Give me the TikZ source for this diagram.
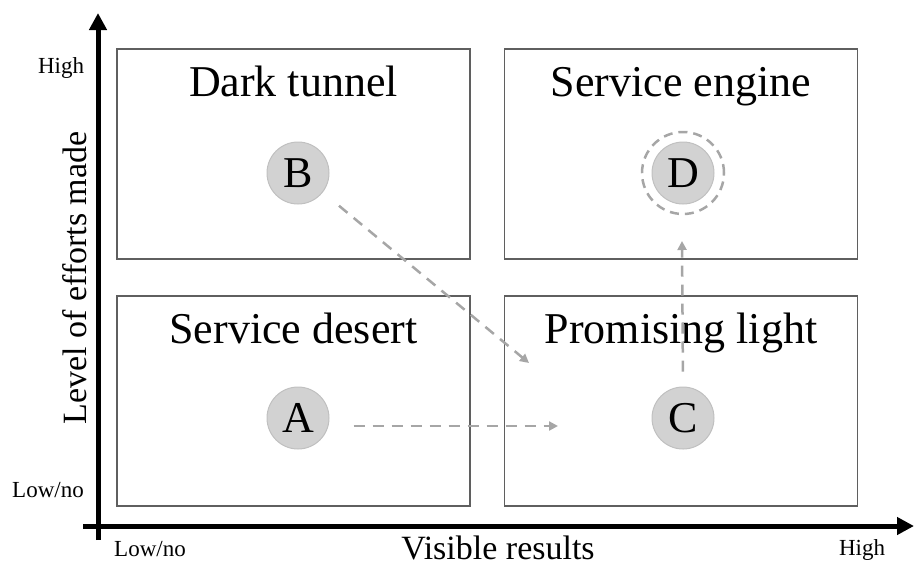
\documentclass[tikz,border=0pt]{standalone}
\usepackage{fontspec}
\setmainfont{Liberation Serif}
\usetikzlibrary{arrows.meta,positioning}
\definecolor{boxline}{RGB}{95,95,95}
\definecolor{dotfill}{RGB}{210,210,210}
\definecolor{dotline}{RGB}{192,192,192}
\definecolor{flowgray}{RGB}{166,166,166}

\begin{document}
\begin{tikzpicture}[x=1pt, y=-1pt,
  zone/.style={rectangle, draw=boxline, line width=1.2pt, minimum width=353pt,
               minimum height=210pt, inner sep=0pt},
  title/.style={anchor=base, inner sep=0pt, font=\fontsize{44}{48}\selectfont},
  stage/.style={circle, draw=dotline, fill=dotfill, line width=1pt, minimum size=62pt,
                inner sep=0pt, font=\fontsize{44}{48}\selectfont},
  ring/.style={circle, draw=flowgray, line width=2.5pt, dash pattern=on 9pt off 6pt,
               minimum size=82pt, inner sep=0pt},
  flow/.style={draw=flowgray, line width=2.5pt, dash pattern=on 11pt off 8pt,
               -{Triangle[length=9pt,width=9pt]}},
  axis/.style={line width=5pt, -{Triangle[length=17pt,width=17pt]}},
  tick/.style={inner sep=0pt, font=\fontsize{23}{26}\selectfont},
  axlabel/.style={inner sep=0pt, font=\fontsize{34}{38}\selectfont}]
  \useasboundingbox (0,0) rectangle (915,566);

  % axes
  \coordinate (ybot) at (98,540);
  \coordinate (ytop) at (98,13);
  \coordinate (xleft) at (83,526);
  \coordinate (xright) at (914,526);
  \draw[axis] (ybot) -- (ytop);
  \draw[axis] (xleft) -- (xright);

  \node[tick] (yhigh) at (61,68) {High};
  \node[tick] (ylow) at (48,490) {Low/no};
  \node[tick] (xlow) at (150,549) {Low/no};
  \node[tick] (xhigh) at (862,550) {High};
  \node[axlabel] (xname) at (498,548) {Visible results};
  \node[axlabel, rotate=90] (yname) at (75,278) {Level of efforts made};

  % quadrants
  \node[zone] (tl) at (293.5,154) {};
  \node[zone] (tr) at (681,154) {};
  \node[zone] (bl) at (293.5,401) {};
  \node[zone] (br) at (681,401) {};
  \node[title] (tlname) at ([yshift=-48pt]tl.north) {Dark tunnel};
  \node[title] (trname) at ([yshift=-48pt]tr.north) {Service engine};
  \node[title] (blname) at ([yshift=-48pt]bl.north) {Service desert};
  \node[title] (brname) at ([yshift=-48pt]br.north) {Promising light};

  % positions
  \node[stage] (B) at (298,173) {B};
  \node[stage] (D) at (683,173) {D};
  \node[ring] (Dring) at (D) {};
  \node[stage] (A) at (298,418) {A};
  \node[stage] (C) at (683,418) {C};

  \coordinate (aEnd) at (558,426);
  \coordinate (bEnd) at (529,363);
  \coordinate (cEnd) at (682,241);
  \draw[flow, shorten <=24pt] ([yshift=-8pt]A.east) -- (aEnd);
  \draw[flow, shorten <=21pt] (B.-38) -- (bEnd);
  \draw[flow, shorten <=15pt] (C.north) -- (cEnd);
\end{tikzpicture}
\end{document}
